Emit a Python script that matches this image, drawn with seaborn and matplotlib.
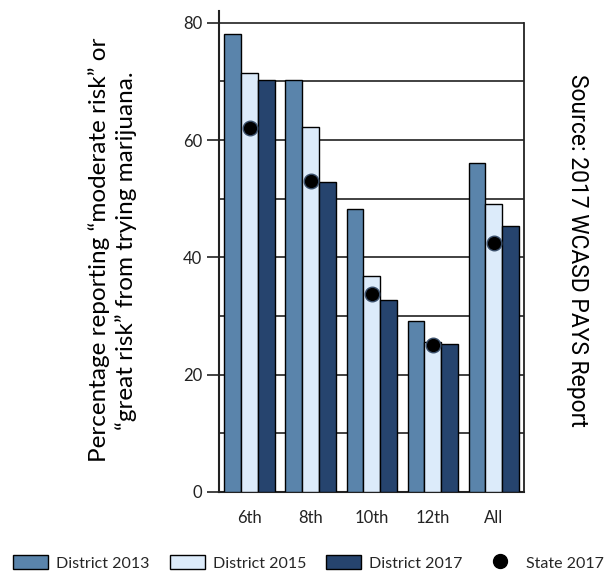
import numpy as np
import pandas as pd
import matplotlib
matplotlib.use("Agg")
import matplotlib.pyplot as plt
import seaborn as sns
from matplotlib.patches import Patch
from matplotlib.lines import Line2D

grades = ["6th", "8th", "10th", "12th", "All"]
district_2013 = [78.1, 70.2, 48.3, 29.1, 56.1]
district_2015 = [71.5, 62.2, 36.9, 25.5, 49.1]
district_2017 = [70.2, 52.8, 32.7, 25.2, 45.4]
state_2017 = [62.0, 53.0, 33.8, 25.0, 42.5]
series_names = ["District 2013", "District 2015", "District 2017"]
colors = ["#5A84AB", "#DCEBFA", "#26446E"]
y_ticks = [0, 20, 40, 60, 80]

df = pd.DataFrame({
    "grade": grades * 3,
    "series": sum([[s] * len(grades) for s in series_names], []),
    "value": district_2013 + district_2015 + district_2017,
})

sns.set_theme(style="white")
plt.rcParams["font.family"] = ["Lato", "DejaVu Sans"]

fig = plt.figure(figsize=(6.07, 5.78), dpi=100)
ax = fig.add_axes([0.3608, 0.1488, 0.5025, 0.832])

sns.barplot(data=df, x="grade", y="value", hue="series", order=grades,
            hue_order=series_names, palette=colors, saturation=1, width=0.82, ax=ax,
            edgecolor="black", linewidth=1.0, legend=False, zorder=3)

ax.scatter(np.arange(len(grades)), state_2017, s=110, color="black",
           edgecolor="#3a4f6a", linewidth=1.0, zorder=5)

ax.set_xlim(-0.5, len(grades) - 0.5)
ax.set_ylim(0, 82)
for g in range(10, 81, 10):
    ax.axhline(g, color="#333333", lw=1.3, zorder=1)

ax.set_yticks(y_ticks)
ax.set_yticklabels([str(t) for t in y_ticks], fontsize=12, color="#222222")
ax.set_xticks(np.arange(len(grades)))
ax.set_xticklabels(grades, fontsize=12, color="#222222")
ax.set_xticks(np.arange(-0.5, len(grades), 1.0), minor=True)
ax.tick_params(axis="x", which="major", length=0, pad=13)
ax.tick_params(axis="x", which="minor", length=8, width=1.2, color="#222222", direction="out")
ax.tick_params(axis="y", which="major", length=9, width=1.2, color="#222222", direction="out", left=True, pad=3)
ax.set_xlabel("")
ax.set_ylabel("")

ax.spines["top"].set_visible(False)
ax.spines["left"].set_color("#222222")
ax.spines["left"].set_linewidth(1.5)
ax.spines["bottom"].set_color("#222222")
ax.spines["bottom"].set_linewidth(1.5)
ax.spines["right"].set_color("#222222")
ax.spines["right"].set_linewidth(1.3)
ax.spines["right"].set_bounds(0, 80)

fig.text(0.185, 0.567, "Percentage reporting \u201cmoderate risk\u201d or\n\u201cgreat risk\u201d from trying marijuana.",
         rotation=90, ha="center", va="center", fontsize=17.5, linespacing=1.3,
         family=["Lato", "DejaVu Sans"], color="black")
fig.text(0.952, 0.567, "Source: 2017 WCASD PAYS Report", rotation=-90,
         ha="center", va="center", fontsize=16.5, family=["Roboto", "DejaVu Sans"], color="black")

handles = [Patch(facecolor=c, edgecolor="black", linewidth=1.0) for c in colors]
handles.append(Line2D([], [], marker="o", color="none", markerfacecolor="black",
                      markeredgecolor="black", markersize=10))
labels = series_names + ["State 2017"]
fig.legend(handles, labels, loc="center", bbox_to_anchor=(0.508, 0.026), ncol=4,
           frameon=False, fontsize=11.5, handlelength=2.2, handleheight=1.0,
           handletextpad=0.5, columnspacing=1.25, borderaxespad=0)

fig.savefig("out.png", dpi=100)
